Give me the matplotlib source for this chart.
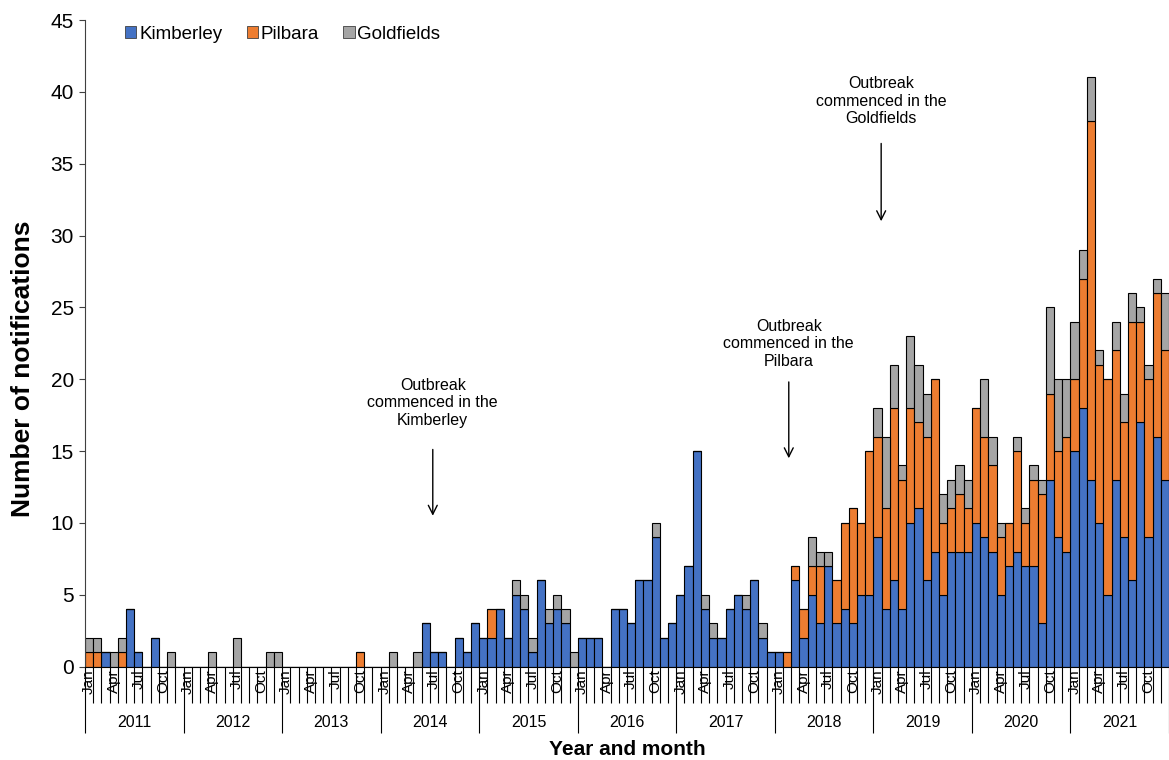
import numpy as np
import matplotlib
matplotlib.use("Agg")
import matplotlib.pyplot as plt
import matplotlib.transforms as mtransforms
from matplotlib.patches import Patch

plt.rcParams['font.family'] = ['Liberation Sans', 'DejaVu Sans']

years = ['2011', '2012', '2013', '2014', '2015', '2016', '2017', '2018', '2019', '2020', '2021']
month_names = ['Jan', 'Feb', 'Mar', 'Apr', 'May', 'Jun', 'Jul', 'Aug', 'Sep', 'Oct', 'Nov', 'Dec']
shown_months = ['Jan', 'Apr', 'Jul', 'Oct']

# monthly notifications, one row per year
kimberley = [
    [0, 0, 1, 0, 0, 4, 1, 0, 2, 0, 0, 0],
    [0, 0, 0, 0, 0, 0, 0, 0, 0, 0, 0, 0],
    [0, 0, 0, 0, 0, 0, 0, 0, 0, 0, 0, 0],
    [0, 0, 0, 0, 0, 3, 1, 1, 0, 2, 1, 3],
    [2, 2, 4, 2, 5, 4, 1, 6, 3, 4, 3, 0],
    [2, 2, 2, 0, 4, 4, 3, 6, 6, 9, 2, 3],
    [5, 7, 15, 4, 2, 2, 4, 5, 4, 6, 2, 1],
    [1, 0, 6, 2, 5, 3, 7, 3, 4, 3, 5, 5],
    [9, 4, 6, 4, 10, 11, 6, 8, 5, 8, 8, 8],
    [10, 9, 8, 5, 7, 8, 7, 7, 3, 13, 9, 8],
    [15, 18, 13, 10, 5, 13, 9, 6, 17, 9, 16, 13],
]
pilbara = [
    [1, 1, 0, 0, 1, 0, 0, 0, 0, 0, 0, 0],
    [0, 0, 0, 0, 0, 0, 0, 0, 0, 0, 0, 0],
    [0, 0, 0, 0, 0, 0, 0, 0, 0, 1, 0, 0],
    [0, 0, 0, 0, 0, 0, 0, 0, 0, 0, 0, 0],
    [0, 2, 0, 0, 0, 0, 0, 0, 0, 0, 0, 0],
    [0, 0, 0, 0, 0, 0, 0, 0, 0, 0, 0, 0],
    [0, 0, 0, 0, 0, 0, 0, 0, 0, 0, 0, 0],
    [0, 1, 1, 2, 2, 4, 0, 3, 6, 8, 5, 10],
    [7, 7, 12, 9, 8, 6, 10, 12, 5, 3, 4, 3],
    [8, 7, 6, 4, 3, 7, 3, 6, 9, 6, 6, 8],
    [5, 9, 25, 11, 15, 9, 8, 18, 7, 11, 10, 9],
]
goldfields = [
    [1, 1, 0, 1, 1, 0, 0, 0, 0, 0, 1, 0],
    [0, 0, 0, 1, 0, 0, 2, 0, 0, 0, 1, 1],
    [0, 0, 0, 0, 0, 0, 0, 0, 0, 0, 0, 0],
    [0, 1, 0, 0, 1, 0, 0, 0, 0, 0, 0, 0],
    [0, 0, 0, 0, 1, 1, 1, 0, 1, 1, 1, 1],
    [0, 0, 0, 0, 0, 0, 0, 0, 0, 1, 0, 0],
    [0, 0, 0, 1, 1, 0, 0, 0, 1, 0, 1, 0],
    [0, 0, 0, 0, 2, 1, 1, 0, 0, 0, 0, 0],
    [2, 5, 3, 1, 5, 4, 3, 0, 2, 2, 2, 2],
    [0, 4, 2, 1, 0, 1, 1, 1, 1, 6, 5, 4],
    [4, 2, 3, 1, 0, 2, 2, 2, 1, 1, 1, 4],
]

# annotation text and the month it points at
outbreaks = [
    ('Outbreak\ncommenced in the\nKimberley', '2014', 'Jul'),
    ('Outbreak\ncommenced in the\nPilbara', '2018', 'Feb'),
    ('Outbreak\ncommenced in the\nGoldfields', '2019', 'Jan'),
]

k = np.array(kimberley).ravel()
p = np.array(pilbara).ravel()
g = np.array(goldfields).ravel()
n = len(k)
x = np.arange(n)

c_k = '#4472C4'
c_p = '#ED7D31'
c_g = '#A5A5A5'

fig = plt.figure(figsize=(11.69, 7.6), dpi=100)
ax = fig.add_axes([85 / 1169, 1 - 666.5 / 760, 1084 / 1169, (666.5 - 20) / 760])

bar_kw = dict(width=1.0, edgecolor='black', linewidth=0.8)
ax.bar(x, k, color=c_k, **bar_kw)
ax.bar(x, p, bottom=k, color=c_p, **bar_kw)
ax.bar(x, g, bottom=k + p, color=c_g, **bar_kw)

ax.set_xlim(-0.5, n - 0.5)
ax.set_ylim(0, 45)
ax.set_yticks(np.arange(0, 46, 5))
ax.tick_params(axis='y', labelsize=15, length=4, width=0.8, color='#404040', pad=4)

for s in ['top', 'right']:
    ax.spines[s].set_visible(False)
ax.spines['left'].set_color('#404040')
ax.spines['left'].set_linewidth(0.8)
ax.spines['bottom'].set_color('black')
ax.spines['bottom'].set_linewidth(0.8)

# multi-level category axis: month separators and longer year separators
ax.set_xticks(np.arange(0, n + 1, 12) - 0.5)
ax.set_xticks(np.arange(0, n + 1) - 0.5, minor=True)
ax.tick_params(axis='x', which='major', length=47.5, width=0.8, labelbottom=False)
ax.tick_params(axis='x', which='minor', length=26, width=0.8)

trans = mtransforms.blended_transform_factory(ax.transData, ax.transAxes)
for yi, yr in enumerate(years):
    for m in shown_months:
        mi = yi * 12 + month_names.index(m)
        ax.text(mi, -0.004, m, rotation=90, ha='center', va='top',
                fontsize=11, transform=trans)
    ax.text(yi * 12 + 5.5, -0.087, yr, ha='center', va='center',
            fontsize=11.5, transform=trans)

ax.text(0.5, -0.129, 'Year and month', ha='center', va='center',
        fontsize=15, fontweight='bold', transform=ax.transAxes)
ax.text(-0.057, 0.46, 'Number of notifications', ha='center', va='center',
        rotation=90, fontsize=19, fontweight='bold', transform=ax.transAxes)

handles = [Patch(facecolor=c_k, edgecolor='#404040', linewidth=0.6),
           Patch(facecolor=c_p, edgecolor='#404040', linewidth=0.6),
           Patch(facecolor=c_g, edgecolor='#404040', linewidth=0.6)]
ax.legend(handles, ['Kimberley', 'Pilbara', 'Goldfields'], ncol=3,
          loc='center left', bbox_to_anchor=(0.03, 0.978), frameon=False,
          fontsize=13.5, handlelength=0.6, handleheight=0.6,
          handletextpad=0.15, columnspacing=1.3, borderaxespad=0)

# annotation layout: x nudge, arrow tail, arrow tip, text bottom (data units)
arrow_pos = [(-0.15, 15.3, 10.3, 16.6), (0.2, 20.0, 14.3, 20.7), (0.45, 36.6, 30.8, 37.6)]
for (txt, yr, m), (dx, y0, y1, yt) in zip(outbreaks, arrow_pos):
    xi = years.index(yr) * 12 + month_names.index(m) + dx
    ax.annotate('', xy=(xi, y1), xytext=(xi, y0),
                arrowprops=dict(arrowstyle='->', color='black', lw=1,
                                mutation_scale=16))
    ax.text(xi, yt, txt, ha='center', va='bottom', fontsize=11.5,
            linespacing=1.22)

fig.savefig('out.png', dpi=100)
